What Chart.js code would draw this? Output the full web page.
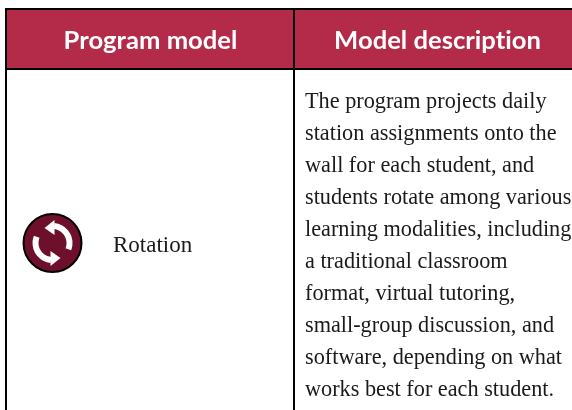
<!DOCTYPE html>
<html><head><meta charset="utf-8">
<style>html,body{margin:0;padding:0;background:#fff}#w{position:relative;width:572px;height:410px}canvas{display:block}</style>
<script src="https://cdn.jsdelivr.net/npm/chart.js@4"></script></head>
<body><div id="w"><canvas id="c" width="572" height="410"></canvas></div>
<script>
const headers = ["Program model", "Model description"];
const programName = "Rotation";
const descriptionLines = [
  "The program projects daily",
  "station assignments onto the",
  "wall for each student, and",
  "students rotate among various",
  "learning modalities, including",
  "a traditional classroom",
  "format, virtual tutoring,",
  "small-group discussion, and",
  "software, depending on what",
  "works best for each student."
];
const headerColor = "#b32b49", iconColor = "#6e0f2b", ink = "#1a1a1a";

const tablePlugin = {
  id: "table",
  afterDraw(chart) {
    const g = chart.ctx;
    g.save();
    g.fillStyle = "#fff"; g.fillRect(0,0,572,410);
    g.fillStyle = headerColor; g.fillRect(6,9,566,60);
    g.fillStyle = "#000";
    g.fillRect(5,8,567,2);
    g.fillRect(5,68,567,2);
    g.fillRect(5,8,2,402);
    g.fillRect(293,8,2,402);
    g.fillStyle = "#fff"; g.textBaseline = "alphabetic"; g.textAlign = "center";
    g.font = "bold 25.6px Lato";
    g.letterSpacing = "0.01px";
    g.fillText(headers[0], 150.5, 49);
    g.fillText(headers[1], 437.5, 49);
    g.letterSpacing = "0px";
    g.textAlign = "left"; g.fillStyle = ink;
    g.font = "23px 'Liberation Serif'";
    g.fillText(programName, 113, 252);
    g.font = "22.25px 'Liberation Serif'";
    descriptionLines.forEach((s,i)=>g.fillText(s, 305, 108.3 + i*32));
    // icon
    const cx=52.5, cy=243;
    g.beginPath(); g.arc(cx,cy,29,0,Math.PI*2); g.fillStyle=iconColor; g.fill();
    g.lineWidth=2; g.strokeStyle="#000"; g.stroke();
    g.fillStyle="#fff";
    const arrow=(rot)=>{
      g.save(); g.translate(cx,cy); g.rotate(rot);
      g.beginPath();
      g.arc(0,0,20,-Math.PI*0.47,Math.PI*0.12);
      g.arc(0,0,14,Math.PI*0.12,-Math.PI*0.47,true);
      g.closePath(); g.fill();
      g.beginPath();
      g.moveTo(2,-23); g.lineTo(2,-8); g.lineTo(-8,-15);
      g.closePath(); g.fill();
      g.restore();
    };
    arrow(0); arrow(Math.PI);
    g.restore();
  }
};
new Chart(document.getElementById("c"), {
  type: "scatter",
  data: { datasets: [{ data: [] }] },
  options: {
    responsive:false, animation:false,
    layout:{padding:0},
    plugins:{legend:{display:false},tooltip:{enabled:false}},
    scales:{x:{display:false},y:{display:false}}
  },
  plugins:[tablePlugin]
});
</script></body></html>
